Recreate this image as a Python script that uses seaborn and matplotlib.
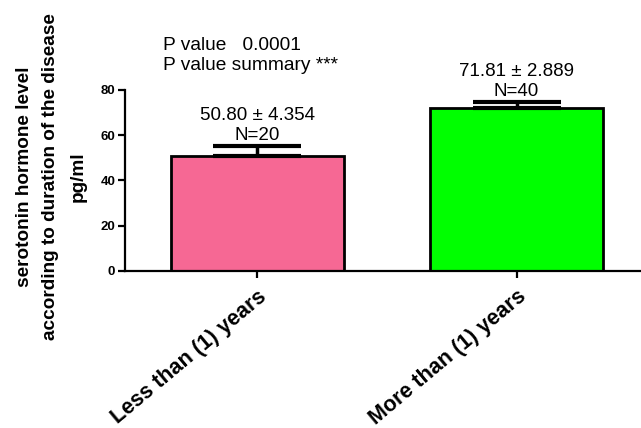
import matplotlib
matplotlib.use("Agg")
import matplotlib.pyplot as plt
import seaborn as sns
import pandas as pd

# Group data: mean serotonin level (pg/ml), SEM and sample size
groups = ["Less than (1) years", "More than (1) years"]
means = [50.80, 71.81]
sems = [4.354, 2.889]
ns = [20, 40]
bar_colors = ["#F66894", "#00FF00"]
p_value = "0.0001"
p_summary = "***"
y_ticks = [0, 20, 40, 60, 80]

sns.set_theme(style="ticks")
plt.rcParams["font.family"] = ["Liberation Sans", "DejaVu Sans"]
for key in ("text.color", "axes.labelcolor", "xtick.color", "ytick.color",
            "axes.edgecolor"):
    plt.rcParams[key] = "black"

df = pd.DataFrame({"group": groups, "mean": means})

fig = plt.figure(figsize=(6.41, 4.28), dpi=100)
ax = fig.add_axes([0.195, 0.3675, 0.805, 0.4225])

sns.barplot(data=df, x="group", y="mean", hue="group", palette=bar_colors,
            saturation=1, width=0.668, edgecolor="black", linewidth=2,
            legend=False, errorbar=None, ax=ax)

# one-sided (upper) SEM bars
ax.errorbar(range(len(groups)), means, yerr=[[0] * len(sems), sems],
            fmt="none", ecolor="black", elinewidth=2.5, capsize=31.5,
            capthick=3, zorder=3)

for i, (m, s, n) in enumerate(zip(means, sems, ns)):
    ax.text(i, m + s + 0.9, f"{m:.2f} \u00b1 {s:.3f}\nN={n}", ha="center",
            va="bottom", fontsize=13.5, linespacing=1.2, clip_on=False)

ax.set_xlim(-0.51, 1.48)
ax.set_ylim(0, 80)
ax.set_yticks(y_ticks)
ax.set_xlabel("")
ax.set_ylabel("")
sns.despine(ax=ax)
for side in ("left", "bottom"):
    ax.spines[side].set_linewidth(1.6)
ax.tick_params(axis="both", length=5, width=1.6)
ax.tick_params(axis="y", labelsize=9.5, pad=2)
for lbl in ax.get_yticklabels():
    lbl.set_fontweight("bold")
ax.set_xticks(range(len(groups)))
ax.set_xticklabels(groups, rotation=40, ha="right", rotation_mode="anchor",
                   fontsize=15.5, fontweight="bold")
ax.tick_params(axis="x", pad=6)

fig.text(51 / 641, 1 - 177 / 428,
         "serotonin hormone level\naccording to duration of the disease\npg/ml",
         rotation=90, ha="center", va="center", fontsize=13.7,
         fontweight="bold", multialignment="center", linespacing=1.75)

fig.text(163 / 641, 1 - 45 / 428, f"P value   {p_value}", ha="left",
         va="center", fontsize=13.8)
fig.text(163 / 641, 1 - 66 / 428, f"P value summary {p_summary}", ha="left",
         va="center", fontsize=13.8)

fig.savefig("out.png", dpi=100, facecolor="white")
